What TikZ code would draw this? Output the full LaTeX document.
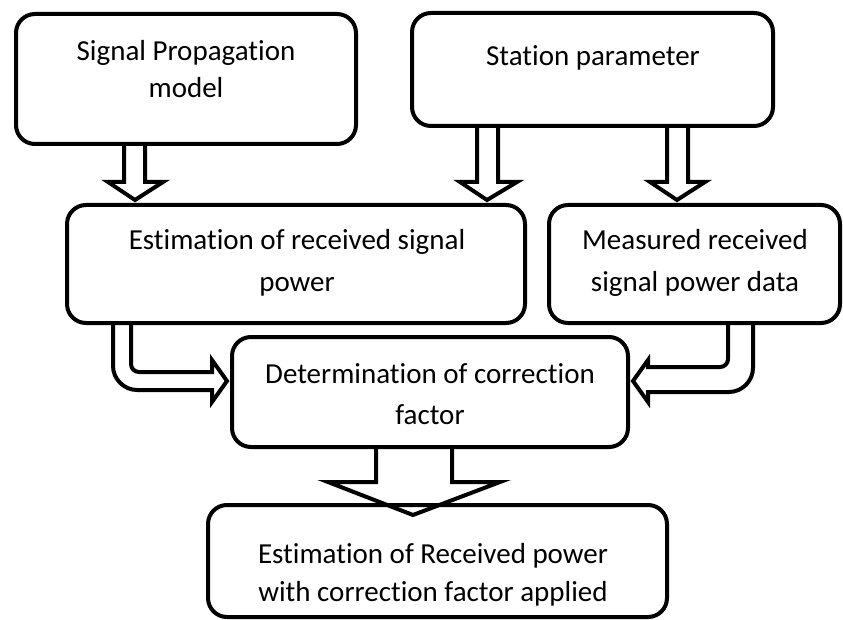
\documentclass[tikz,border=0pt]{standalone}
\usepackage{fontspec}
\setmainfont[Ligatures=NoCommon]{Carlito}
\usetikzlibrary{calc}
\tikzset{
  box/.style={draw=black, line width=4pt, rounded corners=19pt, fill=white, inner sep=0pt},
  txt/.style={align=center, font=\fontsize{29}{40}\selectfont, inner sep=0pt, anchor=base},
  arr/.style={draw=black, line width=4pt, line join=miter}
}
\begin{document}
\begin{tikzpicture}[x=1pt,y=-1pt]
\path[fill=white, use as bounding box] (0,0) rectangle (843,620);
% boxes
\node[box, minimum width=340pt, minimum height=130pt] (b1) at (186,79) {};
\node[box, minimum width=361pt, minimum height=113pt] (b2) at (592.5,69.5) {};
\node[box, minimum width=458pt, minimum height=118pt] (b3) at (296,264) {};
\node[box, minimum width=291pt, minimum height=118pt] (b4) at (694.5,264) {};
\node[box, minimum width=396pt, minimum height=110pt] (b5) at (430,392) {};
\node[box, minimum width=459pt, minimum height=112pt] (b6) at (437.5,561) {};
% texts (anchor base = baseline of last line)
\node[txt, font=\fontsize{29}{37}\selectfont] (t1) at (186,98) {Signal Propagation\\model};
\node[txt] (t2) at (593,66) {Station parameter};
\node[txt, font=\fontsize{29}{42}\selectfont] (t3) at (297,291) {Estimation of received signal\\power};
\node[txt, font=\fontsize{29}{42}\selectfont] (t4) at (695,291) {Measured received\\signal power data};
\node[txt, font=\fontsize{29}{41}\selectfont] (t5) at (430,424) {Determination of correction\\factor};
\node[txt, font=\fontsize{29}{38}\selectfont] (t6) at (433,601) {Estimation of Received power\\with correction factor applied};
% top arrows
\draw[arr] (124,0 |- b1.south) -- (124,182) -- (108,182) -- ($(135,0 |- b3.north)+(0,-3)$) -- (163,182) -- (145,182) -- (145,0 |- b1.south);
\draw[arr] (477,0 |- b2.south) -- (477,182) -- (460,182) -- ($(487,0 |- b3.north)+(0,-3)$) -- (517,182) -- (498,182) -- (498,0 |- b2.south);
\draw[arr] (667,0 |- b2.south) -- (667,182) -- (650,182) -- ($(677,0 |- b4.north)+(0,-3)$) -- (705,182) -- (688,182) -- (688,0 |- b2.south);
% left bent arrow
\draw[arr] (113,0 |- b3.south) -- (113,366) .. controls (113,379) and (124,390) .. (137,390) -- (212,390) -- (212,402) -- ($(b5.west |- 0,381)+(-3,0)$) -- (212,360) -- (212,372) -- (139,372) .. controls (134.5,372) and (131,368.5) .. (131,364) -- (131,0 |- b3.south);
% right bent arrow
\draw[arr] (753,0 |- b4.south) -- (753,368) .. controls (753,381) and (742,392) .. (729,392) -- (648,392) -- (648,402) -- ($(b5.east |- 0,381)+(3,0)$) -- (648,360) -- (648,367) -- (720,367) .. controls (724.5,367) and (728,363.5) .. (728,359) -- (728,0 |- b4.south);
% bottom arrow
\draw[arr] (376,0 |- b5.south) -- (376,482) -- (328,482) -- ($(413,0 |- b6.north)+(0,12)$) -- (500,482) -- (452,482) -- (452,0 |- b5.south);
\end{tikzpicture}
\end{document}
